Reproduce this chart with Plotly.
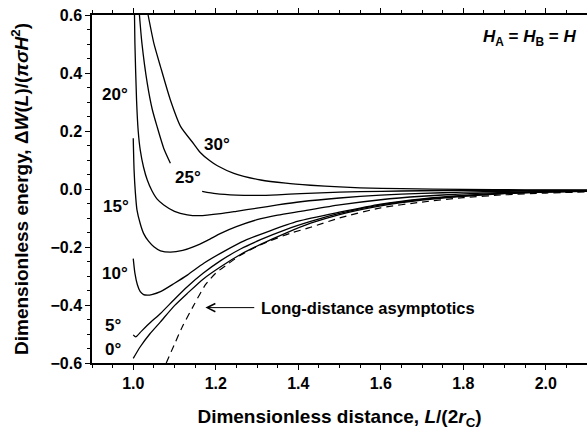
import plotly.graph_objects as go

# ---- data ----
x_0 = [1.0, 1.017, 1.04, 1.066, 1.1, 1.131, 1.17, 1.212, 1.26, 1.31, 1.37, 1.43, 1.5, 1.6, 1.7, 1.8, 1.9, 2.0, 2.1]
y_0 = [-0.584, -0.544, -0.50, -0.458, -0.402, -0.36, -0.31, -0.268, -0.226, -0.19, -0.152, -0.118, -0.088, -0.058, -0.038, -0.025, -0.016, -0.011, -0.008]

x_5 = [1.0, 1.006, 1.02, 1.04, 1.066, 1.1, 1.131, 1.17, 1.212, 1.26, 1.31, 1.37, 1.43, 1.5, 1.6, 1.7, 1.8, 1.9, 2.0, 2.1]
y_5 = [-0.503, -0.51, -0.49, -0.462, -0.429, -0.38, -0.337, -0.29, -0.247, -0.207, -0.174, -0.14, -0.112, -0.084, -0.055, -0.036, -0.024, -0.015, -0.010, -0.007]

x_10 = [1.0, 1.004, 1.01, 1.017, 1.025, 1.034, 1.045, 1.066, 1.1, 1.131, 1.171, 1.22, 1.27, 1.33, 1.4, 1.5, 1.6, 1.7, 1.8, 1.9, 2.0, 2.1]
y_10 = [-0.24, -0.29, -0.33, -0.354, -0.364, -0.366, -0.364, -0.354, -0.325, -0.297, -0.256, -0.215, -0.178, -0.145, -0.111, -0.080, -0.052, -0.034, -0.022, -0.014, -0.010, -0.007]

x_15 = [1.0, 1.002, 1.005, 1.009, 1.017, 1.025, 1.037, 1.05, 1.066, 1.09, 1.12, 1.147, 1.18, 1.212, 1.25, 1.3, 1.35, 1.406, 1.5, 1.6, 1.7, 1.8, 1.9, 2.0, 2.1]
y_15 = [0.175, 0.066, -0.01, -0.072, -0.12, -0.153, -0.18, -0.199, -0.213, -0.218, -0.212, -0.199, -0.177, -0.153, -0.13, -0.106, -0.09, -0.077, -0.055, -0.037, -0.025, -0.017, -0.012, -0.008, -0.006]

x_20 = [1.003, 1.004, 1.008, 1.012, 1.017, 1.025, 1.034, 1.045, 1.058, 1.074, 1.1, 1.131, 1.16, 1.212, 1.25, 1.3, 1.35, 1.406, 1.5, 1.6, 1.7, 1.8, 1.9, 2.0, 2.1]
y_20 = [0.6, 0.503, 0.307, 0.2, 0.134, 0.075, 0.031, -0.005, -0.035, -0.055, -0.077, -0.089, -0.092, -0.085, -0.077, -0.066, -0.055, -0.044, -0.031, -0.021, -0.015, -0.011, -0.008, -0.006, -0.005]

x_25 = [1.015, 1.021, 1.034, 1.046, 1.058, 1.074, 1.09, 1.13, 1.167, 1.2, 1.25, 1.3, 1.35, 1.406, 1.5, 1.6, 1.7, 1.8, 1.9, 2.0, 2.1]
y_25 = [0.6, 0.503, 0.364, 0.275, 0.214, 0.14, 0.089, None, -0.008, -0.016, -0.021, -0.022, -0.02, -0.016, -0.011, -0.008, -0.006, -0.005, -0.005, -0.004, -0.004]

x_30 = [1.036, 1.05, 1.066, 1.09, 1.115, 1.147, 1.163, 1.185, 1.204, 1.244, 1.309, 1.37, 1.43, 1.5, 1.55, 1.65, 1.8, 1.95, 2.1]
y_30 = [0.6, 0.502, 0.422, 0.307, 0.215, 0.155, 0.125, 0.098, 0.08, 0.054, 0.031, 0.02, 0.013, 0.007, 0.004, 0.001, -0.001, -0.003, -0.004]

x_asym = [1.08, 1.1, 1.119, 1.147, 1.175, 1.2, 1.228, 1.26, 1.3, 1.333, 1.38, 1.43, 1.5, 1.6, 1.7, 1.8, 1.9, 2.0, 2.1]
y_asym = [-0.6, -0.535, -0.475, -0.40, -0.33, -0.29, -0.26, -0.228, -0.198, -0.178, -0.153, -0.132, -0.1, -0.065, -0.045, -0.03, -0.02, -0.014, -0.01]

angle_labels = ["0°", "5°", "10°", "15°", "20°", "25°", "30°"]
x_ticks = [1.0, 1.2, 1.4, 1.6, 1.8, 2.0]
y_ticks = [-0.6, -0.4, -0.2, 0.0, 0.2, 0.4, 0.6]

FONT = "Liberation Sans, Arial, sans-serif"

fig = go.Figure()
for xs, ys in [(x_0, y_0), (x_5, y_5), (x_10, y_10), (x_15, y_15), (x_20, y_20), (x_25, y_25), (x_30, y_30)]:
    fig.add_trace(go.Scatter(x=xs, y=ys, mode="lines", connectgaps=False,
                             line=dict(color="black", width=1.3, shape="spline", smoothing=0.6),
                             showlegend=False, hoverinfo="skip"))
fig.add_trace(go.Scatter(x=x_asym, y=y_asym, mode="lines",
                         line=dict(color="black", width=1.2, dash="7px,5px", shape="spline", smoothing=0.6),
                         showlegend=False, hoverinfo="skip"))

label_pos = [(0.951, -0.555), (0.951, -0.469), (0.955, -0.293), (0.958, -0.062),
             (0.955, 0.327), (1.132, 0.038), (1.202, 0.155)]
annotations = []
for txt, (lx, ly) in zip(angle_labels, label_pos):
    annotations.append(dict(x=lx, y=ly, text=txt, showarrow=False, xanchor="center", yanchor="middle",
                            font=dict(family=FONT, size=17, color="black", weight="bold")))

annotations.append(dict(x=2.08, y=0.52, text="<i>H</i><sub>A</sub> = <i>H</i><sub>B</sub> = <i>H</i>",
                        showarrow=False, xanchor="right", yanchor="middle",
                        font=dict(family=FONT, size=17, color="black", weight="bold")))
annotations.append(dict(x=1.175, y=-0.409, ax=1.297, ay=-0.409, axref="x", ayref="y", xref="x", yref="y",
                        text="", showarrow=True, arrowhead=5, arrowsize=1.6, arrowwidth=1, arrowcolor="black"))
annotations.append(dict(x=1.304, y=-0.409, text="Long-distance asymptotics", showarrow=False,
                        xanchor="left", yanchor="middle",
                        font=dict(family=FONT, size=16.5, color="black", weight="bold")))

axis_common = dict(showline=True, linecolor="black", linewidth=1.5, mirror="ticks",
                   ticks="outside", ticklen=5, tickwidth=1, tickcolor="black",
                   showgrid=False, zeroline=False, tickformat=".1f", automargin=False,
                   tickfont=dict(family=FONT, size=16, color="black", weight="bold"))

fig.update_layout(
    width=587, height=433,
    margin=dict(l=92, r=0, t=15, b=70, autoexpand=False),
    paper_bgcolor="white", plot_bgcolor="white",
    annotations=annotations,
    xaxis=dict(range=[0.9, 2.1], tickvals=x_ticks,
               minor=dict(dtick=0.05, tick0=0.9, ticks="outside", ticklen=3, tickcolor="black"),
               title=dict(text="Dimensionless distance, <i>L</i>/(2<i>r</i><sub>C</sub>)", standoff=19,
                          font=dict(family=FONT, size=19, color="black", weight="bold")),
               **axis_common),
    yaxis=dict(range=[-0.6, 0.6], tickvals=y_ticks,
               minor=dict(dtick=0.05, tick0=-0.6, ticks="outside", ticklen=3, tickcolor="black"),
               title=dict(text="Dimensionless energy, Δ<i>W</i>(<i>L</i>)/(<i>πσ</i><i>H</i><sup>2</sup>)", standoff=17,
                          font=dict(family=FONT, size=19, color="black", weight="bold")),
               **axis_common),
)
fig.write_html("out.html", config={"displayModeBar": False},
               post_script="document.body.style.margin='0';")
